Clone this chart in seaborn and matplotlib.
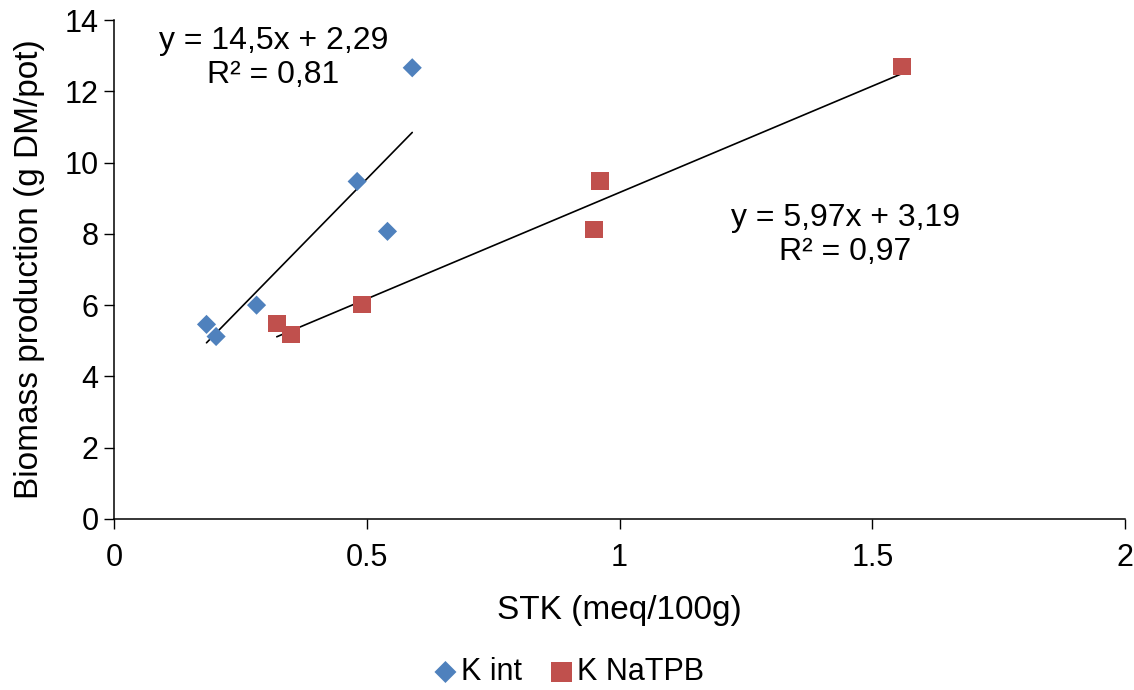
import numpy as np
import pandas as pd
import matplotlib
matplotlib.use("Agg")
import matplotlib.pyplot as plt
import seaborn as sns

# Soil test potassium (meq/100g) vs. biomass production (g DM/pot)
k_int_x = [0.183, 0.202, 0.282, 0.481, 0.541, 0.590]
k_int_y = [5.46, 5.12, 6.00, 9.47, 8.07, 12.66]
k_natpb_x = [0.322, 0.350, 0.491, 0.961, 0.950, 1.559]
k_natpb_y = [5.48, 5.18, 6.02, 9.49, 8.12, 12.69]

# Linear trend lines (slope, intercept, R²)
k_int_fit = (14.5, 2.29, 0.81)
k_natpb_fit = (5.97, 3.19, 0.97)

series_names = ["K int", "K NaTPB"]
x_ticks = [0, 0.5, 1, 1.5, 2]
x_tick_labels = ["0", "0.5", "1", "1.5", "2"]
y_ticks = [0, 2, 4, 6, 8, 10, 12, 14]

blue = "#4F81BD"
red = "#C0504D"

sns.set_theme(style="white")
plt.rcParams["font.family"] = ["Liberation Sans", "DejaVu Sans"]
plt.rcParams.update({
    "text.color": "black",
    "axes.labelcolor": "black",
    "xtick.color": "black",
    "ytick.color": "black",
})

fig = plt.figure(figsize=(11.34, 6.9), dpi=100)
ax = fig.add_axes([114 / 1134, 1 - 519 / 690, (1125 - 114) / 1134, (519 - 20) / 690])

df_int = pd.DataFrame({"x": k_int_x, "y": k_int_y, "series": series_names[0]})
df_natpb = pd.DataFrame({"x": k_natpb_x, "y": k_natpb_y, "series": series_names[1]})

sns.scatterplot(data=df_int, x="x", y="y", marker="D", s=95, color=blue,
                edgecolor="none", linewidth=0, ax=ax, label=series_names[0], zorder=3)
sns.scatterplot(data=df_natpb, x="x", y="y", marker="s", s=160, color=red,
                edgecolor="none", linewidth=0, ax=ax, label=series_names[1], zorder=3)

# Trend lines drawn over each series' x range
for xs, (m, b, r2) in [(k_int_x, k_int_fit), (k_natpb_x, k_natpb_fit)]:
    xr = np.array([min(xs), max(xs)])
    ax.plot(xr, m * xr + b, color="black", lw=1.2, zorder=2)

def fmt(v, nd):
    return f"{v:.{nd}f}".replace(".", ",")

ax.text(0.315, 13.4, f"y = {fmt(k_int_fit[0], 1)}x + {fmt(k_int_fit[1], 2)}",
        ha="center", va="center", fontsize=23)
ax.text(0.315, 12.45, f"R² = {fmt(k_int_fit[2], 2)}", ha="center", va="center", fontsize=23)
ax.text(1.447, 8.45, f"y = {fmt(k_natpb_fit[0], 2)}x + {fmt(k_natpb_fit[1], 2)}",
        ha="center", va="center", fontsize=23)
ax.text(1.447, 7.5, f"R² = {fmt(k_natpb_fit[2], 2)}", ha="center", va="center", fontsize=23)

ax.set_xlim(0, 2)
ax.set_ylim(0, 14)
ax.set_xticks(x_ticks)
ax.set_xticklabels(x_tick_labels)
ax.set_yticks(y_ticks)
ax.tick_params(axis="both", which="major", labelsize=22, length=7, width=1,
               direction="out", color="black", labelcolor="black",
               bottom=True, left=True)
ax.tick_params(axis="x", pad=10)
ax.tick_params(axis="y", pad=4)
for side in ["top", "right"]:
    ax.spines[side].set_visible(False)
for side in ["left", "bottom"]:
    ax.spines[side].set_color("black")
    ax.spines[side].set_linewidth(1.1)

ax.set_xlabel("STK (meq/100g)", fontsize=24, labelpad=16)
ax.set_ylabel("Biomass production (g DM/pot)", fontsize=24, labelpad=14)

ax.get_legend().remove()
handles, labels = ax.get_legend_handles_labels()
fig.legend(handles, labels, loc="center", bbox_to_anchor=(570 / 1134, 1 - 672 / 690),
           ncol=2, frameon=False, fontsize=22, handlelength=0.6, handletextpad=0.2,
           columnspacing=1.0, markerscale=1.15)

fig.savefig("out.png", dpi=100)
